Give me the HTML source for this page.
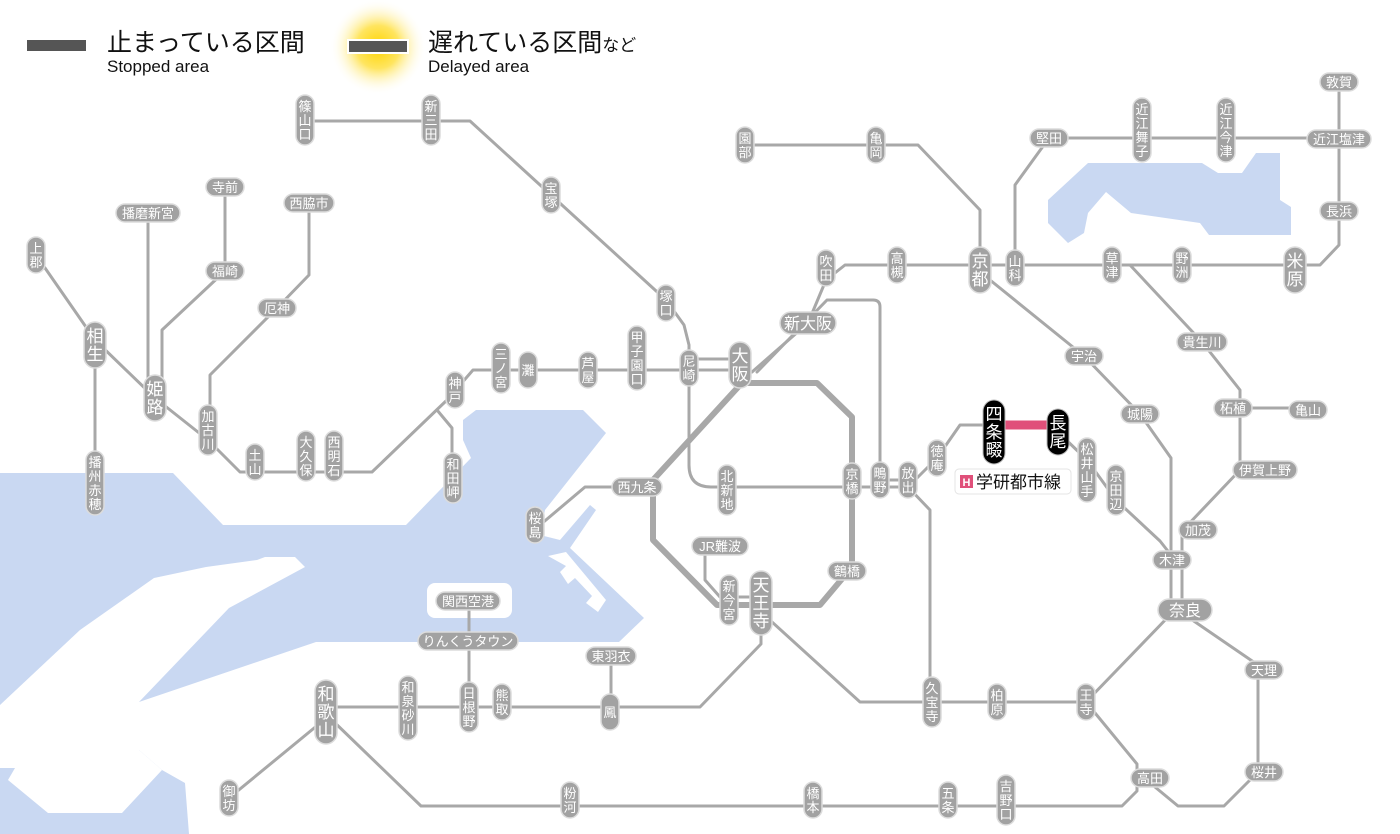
<!DOCTYPE html>
<html><head><meta charset="utf-8">
<style>
body{margin:0;background:#fff;}
svg{display:block;font-family:"Liberation Sans","Noto Sans CJK JP",sans-serif;}
.l{fill:none;stroke:#a8a8a8;stroke-width:3;stroke-linejoin:round;stroke-linecap:round}
.p{fill:#a2a2a2;stroke:#dcdcdc;stroke-width:1.5}
.t{fill:#fff;font-size:13px;text-anchor:middle}
.bt{fill:#fff;font-size:17px;text-anchor:middle}
.k{fill:#000;stroke:#bbb;stroke-width:1}
</style></head><body>
<svg width="1400" height="834" viewBox="0 0 1400 834" xmlns="http://www.w3.org/2000/svg">
<defs>
<radialGradient id="g"><stop offset="0" stop-color="#ffd400"/><stop offset="0.45" stop-color="#ffe560"/><stop offset="1" stop-color="#fff" stop-opacity="0"/></radialGradient>
</defs>
<!-- water -->
<polygon fill="#c9d8f2" points="0,473 173,473 223,525 406,525 471,458 463,440 463,420 476,410 583,410 606,433 545,510 540,535 560,540 590,505 596,510 570,548 644,618 619,642 316,642 139,702 139,750 162,770 185,783 189,834 0,834"/>
<polygon fill="#fff" points="0,705 80,630 154,578 206,567 257,560 265,557 295,557 305,567 229,608 139,702 139,750 162,770 122,813 48,813 8,780 15,768 0,768"/>
<polygon fill="#fff" points="548,556 566,552 606,600 598,612 586,603 592,596 575,578 568,584 560,572 566,566"/>
<rect x="427" y="583" width="85" height="35" rx="8" fill="#fff"/>
<polygon fill="#c9d8f2" points="1048,200 1088,163 1202,163 1218,173 1242,173 1256,153 1280,153 1280,200 1291,207 1291,235 1209,235 1200,223 1131,213 1106,192 1088,213 1084,233 1068,243 1048,223"/>

<!-- legend -->
<rect x="27" y="40" width="59" height="11" fill="#555"/>
<text x="107" y="51" font-size="25" fill="#111">止まっている区間</text>
<text x="107" y="72" font-size="17" fill="#111">Stopped area</text>
<circle cx="378" cy="47" r="48" fill="url(#g)"/>
<rect x="347" y="39" width="62" height="15" fill="#fff"/>
<rect x="349" y="41" width="58" height="11" fill="#555"/>
<text x="428" y="51" font-size="25" fill="#111">遅れている区間<tspan font-size="17">など</tspan></text>
<text x="428" y="72" font-size="17" fill="#111">Delayed area</text>

<!-- lines -->
<path class="l" d="M305,121 H470 L551,195 L666,300 L684,325 L689,345 V465 Q689,487 711,487 H908"/>
<path class="l" d="M36,255 L95,340 L155,398 L208,440 L240,472 H372 L447,400 L473,370 H740"/>
<path class="l" d="M689,359 H740"/>
<path class="l" d="M437,410 L452,428 V478"/>
<path class="l" d="M148,213 V398"/>
<path class="l" d="M225,187 V271 L162,330 V400"/>
<path class="l" d="M309,203 V275 L277,308 L210,375 V430"/>
<path class="l" d="M95,345 V483"/>
<path class="l" d="M752,372 L808,323 L826,280 L845,265 H1320 L1339,245 V82"/>
<path class="l" d="M757,372 L827,300 H873 Q880,300 880,307 V480 H908"/>
<path class="l" d="M1015,265 V185 L1049,138 H1339"/>
<path class="l" d="M745,145 H918 L980,210 V265"/>
<path class="l" d="M990,280 L1084,356 L1140,414 L1171,458 V610"/>
<path class="l" d="M1112,265 H1130 L1202,342 L1240,390 V470 L1182,531 V610"/>
<path class="l" d="M1240,408 H1308"/>
<path class="l" d="M908,487 L937,458 L960,425 H994"/>
<path d="M994,425 H1058" stroke="#e0507a" stroke-width="9" fill="none"/>
<path class="l" d="M1058,432 L1087,460 L1116,500 L1160,541 L1171,555"/>
<path class="l" d="M908,487 L930,510 V702"/>
<path class="l" style="stroke-width:6" d="M740,383 H817 L852,417 V567 L820,605 H717 L653,540 V480 L740,385"/>
<path class="l" d="M637,487 H585 L540,525"/>
<path class="l" d="M761,612 L860,702 H1086 L1170,615"/>
<path class="l" d="M1086,702 L1137,764 V791 L1122,806 H421 L332,720"/>
<path class="l" d="M1185,615 L1258,665 V772 L1224,806 H1178 L1155,787"/>
<path class="l" d="M761,603 V644 L700,707 H326"/>
<path class="l" d="M611,656 V712"/>
<path class="l" d="M469,601 V707"/>
<path class="l" d="M330,715 L229,798"/>
<path class="l" d="M720,546 H705 V580 L720,597 H761"/>

<!-- vertical stations (small) -->
<g transform="translate(305,120)"><rect class="p" x="-9" y="-25" width="18" height="50" rx="9"/><text class="t"><tspan x="0" y="-9">篠</tspan><tspan x="0" y="5">山</tspan><tspan x="0" y="19">口</tspan></text></g>
<g transform="translate(431,120)"><rect class="p" x="-9" y="-25" width="18" height="50" rx="9"/><text class="t"><tspan x="0" y="-9">新</tspan><tspan x="0" y="5">三</tspan><tspan x="0" y="19">田</tspan></text></g>
<g transform="translate(551,195)"><rect class="p" x="-9" y="-18" width="18" height="36" rx="9"/><text class="t"><tspan x="0" y="-2">宝</tspan><tspan x="0" y="12">塚</tspan></text></g>
<g transform="translate(666,303)"><rect class="p" x="-9" y="-18" width="18" height="36" rx="9"/><text class="t"><tspan x="0" y="-2">塚</tspan><tspan x="0" y="12">口</tspan></text></g>
<g transform="translate(745,145)"><rect class="p" x="-9" y="-18" width="18" height="36" rx="9"/><text class="t"><tspan x="0" y="-2">園</tspan><tspan x="0" y="12">部</tspan></text></g>
<g transform="translate(876,145)"><rect class="p" x="-9" y="-18" width="18" height="36" rx="9"/><text class="t"><tspan x="0" y="-2">亀</tspan><tspan x="0" y="12">岡</tspan></text></g>
<g transform="translate(1142,130)"><rect class="p" x="-9" y="-32" width="18" height="64" rx="9"/><text class="t"><tspan x="0" y="-16">近</tspan><tspan x="0" y="-2">江</tspan><tspan x="0" y="12">舞</tspan><tspan x="0" y="26">子</tspan></text></g>
<g transform="translate(1226,130)"><rect class="p" x="-9" y="-32" width="18" height="64" rx="9"/><text class="t"><tspan x="0" y="-16">近</tspan><tspan x="0" y="-2">江</tspan><tspan x="0" y="12">今</tspan><tspan x="0" y="26">津</tspan></text></g>
<g transform="translate(36,255)"><rect class="p" x="-9" y="-18" width="18" height="36" rx="9"/><text class="t"><tspan x="0" y="-2">上</tspan><tspan x="0" y="12">郡</tspan></text></g>
<g transform="translate(208,430)"><rect class="p" x="-9" y="-25" width="18" height="50" rx="9"/><text class="t"><tspan x="0" y="-9">加</tspan><tspan x="0" y="5">古</tspan><tspan x="0" y="19">川</tspan></text></g>
<g transform="translate(95,483)"><rect class="p" x="-9" y="-32" width="18" height="64" rx="9"/><text class="t"><tspan x="0" y="-16">播</tspan><tspan x="0" y="-2">州</tspan><tspan x="0" y="12">赤</tspan><tspan x="0" y="26">穂</tspan></text></g>
<g transform="translate(255,462)"><rect class="p" x="-9" y="-18" width="18" height="36" rx="9"/><text class="t"><tspan x="0" y="-2">土</tspan><tspan x="0" y="12">山</tspan></text></g>
<g transform="translate(306,456)"><rect class="p" x="-9" y="-25" width="18" height="50" rx="9"/><text class="t"><tspan x="0" y="-9">大</tspan><tspan x="0" y="5">久</tspan><tspan x="0" y="19">保</tspan></text></g>
<g transform="translate(334,456)"><rect class="p" x="-9" y="-25" width="18" height="50" rx="9"/><text class="t"><tspan x="0" y="-9">西</tspan><tspan x="0" y="5">明</tspan><tspan x="0" y="19">石</tspan></text></g>
<g transform="translate(455,390)"><rect class="p" x="-9" y="-18" width="18" height="36" rx="9"/><text class="t"><tspan x="0" y="-2">神</tspan><tspan x="0" y="12">戸</tspan></text></g>
<g transform="translate(453,478)"><rect class="p" x="-9" y="-25" width="18" height="50" rx="9"/><text class="t"><tspan x="0" y="-9">和</tspan><tspan x="0" y="5">田</tspan><tspan x="0" y="19">岬</tspan></text></g>
<g transform="translate(501,368)"><rect class="p" x="-9" y="-25" width="18" height="50" rx="9"/><text class="t"><tspan x="0" y="-9">三</tspan><tspan x="0" y="5">ノ</tspan><tspan x="0" y="19">宮</tspan></text></g>
<g transform="translate(528,370)"><rect class="p" x="-9" y="-18" width="18" height="36" rx="9"/><text class="t"><tspan x="0" y="5">灘</tspan></text></g>
<g transform="translate(588,370)"><rect class="p" x="-9" y="-18" width="18" height="36" rx="9"/><text class="t"><tspan x="0" y="-2">芦</tspan><tspan x="0" y="12">屋</tspan></text></g>
<g transform="translate(637,358)"><rect class="p" x="-9" y="-32" width="18" height="64" rx="9"/><text class="t"><tspan x="0" y="-16">甲</tspan><tspan x="0" y="-2">子</tspan><tspan x="0" y="12">園</tspan><tspan x="0" y="26">口</tspan></text></g>
<g transform="translate(689,368)"><rect class="p" x="-9" y="-18" width="18" height="36" rx="9"/><text class="t"><tspan x="0" y="-2">尼</tspan><tspan x="0" y="12">崎</tspan></text></g>
<g transform="translate(826,268)"><rect class="p" x="-9" y="-18" width="18" height="36" rx="9"/><text class="t"><tspan x="0" y="-2">吹</tspan><tspan x="0" y="12">田</tspan></text></g>
<g transform="translate(897,265)"><rect class="p" x="-9" y="-18" width="18" height="36" rx="9"/><text class="t"><tspan x="0" y="-2">高</tspan><tspan x="0" y="12">槻</tspan></text></g>
<g transform="translate(1015,268)"><rect class="p" x="-9" y="-18" width="18" height="36" rx="9"/><text class="t"><tspan x="0" y="-2">山</tspan><tspan x="0" y="12">科</tspan></text></g>
<g transform="translate(1112,265)"><rect class="p" x="-9" y="-18" width="18" height="36" rx="9"/><text class="t"><tspan x="0" y="-2">草</tspan><tspan x="0" y="12">津</tspan></text></g>
<g transform="translate(1182,265)"><rect class="p" x="-9" y="-18" width="18" height="36" rx="9"/><text class="t"><tspan x="0" y="-2">野</tspan><tspan x="0" y="12">洲</tspan></text></g>
<g transform="translate(727,490)"><rect class="p" x="-9" y="-25" width="18" height="50" rx="9"/><text class="t"><tspan x="0" y="-9">北</tspan><tspan x="0" y="5">新</tspan><tspan x="0" y="19">地</tspan></text></g>
<g transform="translate(852,481)"><rect class="p" x="-9" y="-18" width="18" height="36" rx="9"/><text class="t"><tspan x="0" y="-2">京</tspan><tspan x="0" y="12">橋</tspan></text></g>
<g transform="translate(880,480)"><rect class="p" x="-9" y="-18" width="18" height="36" rx="9"/><text class="t"><tspan x="0" y="-2">鴫</tspan><tspan x="0" y="12">野</tspan></text></g>
<g transform="translate(908,480)"><rect class="p" x="-9" y="-18" width="18" height="36" rx="9"/><text class="t"><tspan x="0" y="-2">放</tspan><tspan x="0" y="12">出</tspan></text></g>
<g transform="translate(937,458)"><rect class="p" x="-9" y="-18" width="18" height="36" rx="9"/><text class="t"><tspan x="0" y="-2">徳</tspan><tspan x="0" y="12">庵</tspan></text></g>
<g transform="translate(1087,470)"><rect class="p" x="-9" y="-32" width="18" height="64" rx="9"/><text class="t"><tspan x="0" y="-16">松</tspan><tspan x="0" y="-2">井</tspan><tspan x="0" y="12">山</tspan><tspan x="0" y="26">手</tspan></text></g>
<g transform="translate(1116,490)"><rect class="p" x="-9" y="-25" width="18" height="50" rx="9"/><text class="t"><tspan x="0" y="-9">京</tspan><tspan x="0" y="5">田</tspan><tspan x="0" y="19">辺</tspan></text></g>
<g transform="translate(535,525)"><rect class="p" x="-9" y="-18" width="18" height="36" rx="9"/><text class="t"><tspan x="0" y="-2">桜</tspan><tspan x="0" y="12">島</tspan></text></g>
<g transform="translate(729,600)"><rect class="p" x="-9" y="-25" width="18" height="50" rx="9"/><text class="t"><tspan x="0" y="-9">新</tspan><tspan x="0" y="5">今</tspan><tspan x="0" y="19">宮</tspan></text></g>
<g transform="translate(932,702)"><rect class="p" x="-9" y="-25" width="18" height="50" rx="9"/><text class="t"><tspan x="0" y="-9">久</tspan><tspan x="0" y="5">宝</tspan><tspan x="0" y="19">寺</tspan></text></g>
<g transform="translate(997,702)"><rect class="p" x="-9" y="-18" width="18" height="36" rx="9"/><text class="t"><tspan x="0" y="-2">柏</tspan><tspan x="0" y="12">原</tspan></text></g>
<g transform="translate(1086,702)"><rect class="p" x="-9" y="-18" width="18" height="36" rx="9"/><text class="t"><tspan x="0" y="-2">王</tspan><tspan x="0" y="12">寺</tspan></text></g>
<g transform="translate(408,708)"><rect class="p" x="-9" y="-32" width="18" height="64" rx="9"/><text class="t"><tspan x="0" y="-16">和</tspan><tspan x="0" y="-2">泉</tspan><tspan x="0" y="12">砂</tspan><tspan x="0" y="26">川</tspan></text></g>
<g transform="translate(469,707)"><rect class="p" x="-9" y="-25" width="18" height="50" rx="9"/><text class="t"><tspan x="0" y="-9">日</tspan><tspan x="0" y="5">根</tspan><tspan x="0" y="19">野</tspan></text></g>
<g transform="translate(502,702)"><rect class="p" x="-9" y="-18" width="18" height="36" rx="9"/><text class="t"><tspan x="0" y="-2">熊</tspan><tspan x="0" y="12">取</tspan></text></g>
<g transform="translate(610,712)"><rect class="p" x="-9" y="-18" width="18" height="36" rx="9"/><text class="t"><tspan x="0" y="5">鳳</tspan></text></g>
<g transform="translate(229,798)"><rect class="p" x="-9" y="-18" width="18" height="36" rx="9"/><text class="t"><tspan x="0" y="-2">御</tspan><tspan x="0" y="12">坊</tspan></text></g>
<g transform="translate(570,800)"><rect class="p" x="-9" y="-18" width="18" height="36" rx="9"/><text class="t"><tspan x="0" y="-2">粉</tspan><tspan x="0" y="12">河</tspan></text></g>
<g transform="translate(813,800)"><rect class="p" x="-9" y="-18" width="18" height="36" rx="9"/><text class="t"><tspan x="0" y="-2">橋</tspan><tspan x="0" y="12">本</tspan></text></g>
<g transform="translate(948,800)"><rect class="p" x="-9" y="-18" width="18" height="36" rx="9"/><text class="t"><tspan x="0" y="-2">五</tspan><tspan x="0" y="12">条</tspan></text></g>
<g transform="translate(1006,800)"><rect class="p" x="-9" y="-25" width="18" height="50" rx="9"/><text class="t"><tspan x="0" y="-9">吉</tspan><tspan x="0" y="5">野</tspan><tspan x="0" y="19">口</tspan></text></g>

<!-- big vertical stations -->
<g transform="translate(95,345)"><rect class="p" x="-11" y="-23" width="22" height="46" rx="11"/><text class="bt"><tspan x="0" y="-3">相</tspan><tspan x="0" y="15">生</tspan></text></g>
<g transform="translate(155,398)"><rect class="p" x="-11" y="-23" width="22" height="46" rx="11"/><text class="bt"><tspan x="0" y="-3">姫</tspan><tspan x="0" y="15">路</tspan></text></g>
<g transform="translate(740,365)"><rect class="p" x="-11" y="-23" width="22" height="46" rx="11"/><text class="bt"><tspan x="0" y="-3">大</tspan><tspan x="0" y="15">阪</tspan></text></g>
<g transform="translate(980,270)"><rect class="p" x="-11" y="-23" width="22" height="46" rx="11"/><text class="bt"><tspan x="0" y="-3">京</tspan><tspan x="0" y="15">都</tspan></text></g>
<g transform="translate(1295,270)"><rect class="p" x="-11" y="-23" width="22" height="46" rx="11"/><text class="bt"><tspan x="0" y="-3">米</tspan><tspan x="0" y="15">原</tspan></text></g>
<g transform="translate(761,603)"><rect class="p" x="-11" y="-32" width="22" height="64" rx="11"/><text class="bt"><tspan x="0" y="-12">天</tspan><tspan x="0" y="6">王</tspan><tspan x="0" y="24">寺</tspan></text></g>
<g transform="translate(326,712)"><rect class="p" x="-11" y="-32" width="22" height="64" rx="11"/><text class="bt"><tspan x="0" y="-12">和</tspan><tspan x="0" y="6">歌</tspan><tspan x="0" y="24">山</tspan></text></g>
<g transform="translate(994,432)"><rect class="k" x="-11" y="-32" width="22" height="64" rx="11"/><text class="bt"><tspan x="0" y="-12">四</tspan><tspan x="0" y="6">条</tspan><tspan x="0" y="24">畷</tspan></text></g>
<g transform="translate(1058,432)"><rect class="k" x="-11" y="-23" width="22" height="46" rx="11"/><text class="bt"><tspan x="0" y="-3">長</tspan><tspan x="0" y="15">尾</tspan></text></g>

<!-- horizontal stations -->
<g transform="translate(225,187)"><rect class="p" x="-19" y="-9" width="38" height="18" rx="9"/><text class="t" y="5">寺前</text></g>
<g transform="translate(148,213)"><rect class="p" x="-32" y="-9" width="64" height="18" rx="9"/><text class="t" y="5">播磨新宮</text></g>
<g transform="translate(309,203)"><rect class="p" x="-25" y="-9" width="50" height="18" rx="9"/><text class="t" y="5">西脇市</text></g>
<g transform="translate(225,271)"><rect class="p" x="-19" y="-9" width="38" height="18" rx="9"/><text class="t" y="5">福崎</text></g>
<g transform="translate(277,308)"><rect class="p" x="-19" y="-9" width="38" height="18" rx="9"/><text class="t" y="5">厄神</text></g>
<g transform="translate(1049,138)"><rect class="p" x="-19" y="-9" width="38" height="18" rx="9"/><text class="t" y="5">堅田</text></g>
<g transform="translate(1339,82)"><rect class="p" x="-19" y="-9" width="38" height="18" rx="9"/><text class="t" y="5">敦賀</text></g>
<g transform="translate(1339,139)"><rect class="p" x="-32" y="-9" width="64" height="18" rx="9"/><text class="t" y="5">近江塩津</text></g>
<g transform="translate(1339,211)"><rect class="p" x="-19" y="-9" width="38" height="18" rx="9"/><text class="t" y="5">長浜</text></g>
<g transform="translate(808,323)"><rect class="p" x="-28" y="-11" width="56" height="22" rx="11"/><text class="bt" style="font-size:16px" y="6">新大阪</text></g>
<g transform="translate(1084,356)"><rect class="p" x="-19" y="-9" width="38" height="18" rx="9"/><text class="t" y="5">宇治</text></g>
<g transform="translate(1202,342)"><rect class="p" x="-25" y="-9" width="50" height="18" rx="9"/><text class="t" y="5">貴生川</text></g>
<g transform="translate(1233,408)"><rect class="p" x="-19" y="-9" width="38" height="18" rx="9"/><text class="t" y="5">柘植</text></g>
<g transform="translate(1308,410)"><rect class="p" x="-19" y="-9" width="38" height="18" rx="9"/><text class="t" y="5">亀山</text></g>
<g transform="translate(1140,414)"><rect class="p" x="-19" y="-9" width="38" height="18" rx="9"/><text class="t" y="5">城陽</text></g>
<g transform="translate(1265,470)"><rect class="p" x="-32" y="-9" width="64" height="18" rx="9"/><text class="t" y="5">伊賀上野</text></g>
<g transform="translate(1198,530)"><rect class="p" x="-19" y="-9" width="38" height="18" rx="9"/><text class="t" y="5">加茂</text></g>
<g transform="translate(1172,560)"><rect class="p" x="-19" y="-9" width="38" height="18" rx="9"/><text class="t" y="5">木津</text></g>
<g transform="translate(1185,610)"><rect class="p" x="-27" y="-11" width="54" height="22" rx="11"/><text class="bt" style="font-size:16px" y="6">奈良</text></g>
<g transform="translate(637,487)"><rect class="p" x="-25" y="-9" width="50" height="18" rx="9"/><text class="t" y="5">西九条</text></g>
<g transform="translate(720,546)"><rect class="p" x="-28" y="-9" width="56" height="18" rx="9"/><text class="t" y="5">JR難波</text></g>
<g transform="translate(847,571)"><rect class="p" x="-19" y="-9" width="38" height="18" rx="9"/><text class="t" y="5">鶴橋</text></g>
<g transform="translate(468,601)"><rect class="p" x="-32" y="-9" width="64" height="18" rx="9"/><text class="t" y="5">関西空港</text></g>
<g transform="translate(468,641)"><rect class="p" x="-50" y="-9" width="100" height="18" rx="9"/><text class="t" y="5">りんくうタウン</text></g>
<g transform="translate(611,656)"><rect class="p" x="-25" y="-9" width="50" height="18" rx="9"/><text class="t" y="5">東羽衣</text></g>
<g transform="translate(1264,670)"><rect class="p" x="-19" y="-9" width="38" height="18" rx="9"/><text class="t" y="5">天理</text></g>
<g transform="translate(1264,772)"><rect class="p" x="-19" y="-9" width="38" height="18" rx="9"/><text class="t" y="5">桜井</text></g>
<g transform="translate(1150,778)"><rect class="p" x="-19" y="-9" width="38" height="18" rx="9"/><text class="t" y="5">高田</text></g>

<!-- line label -->
<rect x="955" y="469" width="116" height="25" rx="4" fill="#fff" stroke="#e4e4e4"/>
<rect x="960" y="475" width="13" height="13" fill="#e0507a"/>
<text x="966.5" y="486" font-size="11" fill="#fff" text-anchor="middle" font-weight="bold">H</text>
<text x="976" y="488" font-size="17" fill="#111">学研都市線</text>
</svg>
</body></html>
